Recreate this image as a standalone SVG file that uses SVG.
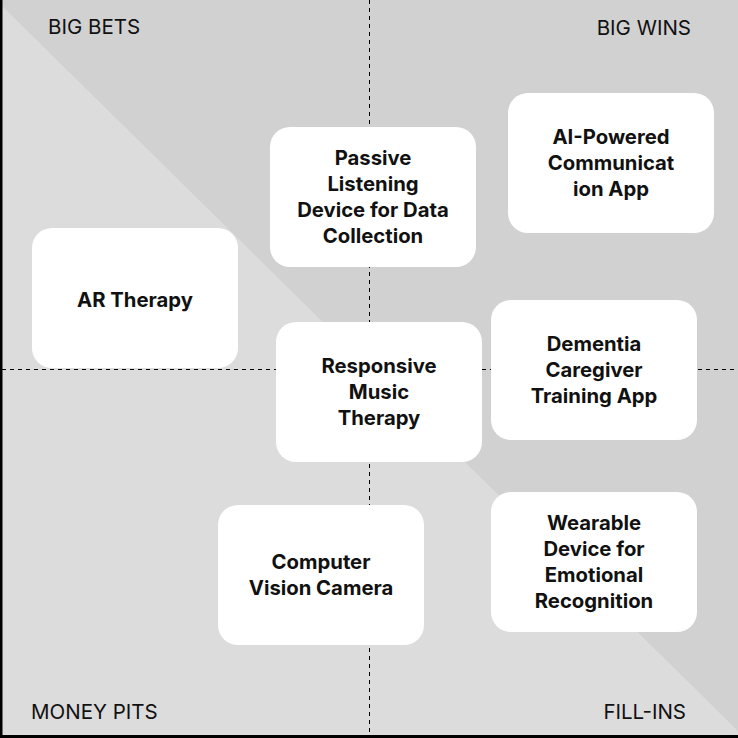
<svg xmlns="http://www.w3.org/2000/svg" width="738" height="738" viewBox="0 0 738 738">
<style>
.node rect{fill:#ffffff}
.node text{font-family:Inter,"Liberation Sans",sans-serif;font-weight:700;font-size:20.3px;fill:#111111;text-anchor:middle}
.lbl{font-family:Inter,"Liberation Sans",sans-serif;font-size:20.5px;fill:#111111}
.axis{stroke:#000000;stroke-width:1;stroke-dasharray:4 4;fill:none}
</style>
<g id="background">
<rect x="0" y="0" width="738" height="738" fill="#d1d1d1"/>
<polygon points="0,4 738,731 738,738 0,738" fill="#dcdcdc"/>
<rect x="0" y="0" width="2.5" height="738" fill="#000"/>
<rect x="0" y="735" width="738" height="3" fill="#000"/>
</g>
<g id="axes">
<line class="axis" x1="369.5" y1="0" x2="369.5" y2="735"/>
<line class="axis" x1="2" y1="369.5" x2="738" y2="369.5"/>
</g>
<g id="labels">
<text class="lbl" x="48" y="34">BIG BETS</text>
<text class="lbl" x="691" y="35" text-anchor="end">BIG WINS</text>
<text class="lbl" x="31" y="719">MONEY PITS</text>
<text class="lbl" x="686" y="719" text-anchor="end">FILL-INS</text>
</g>
<g id="connectors"></g>
<g id="n-passive" class="node">
<rect x="270" y="127" width="206" height="140" rx="20"/>
<text x="373" y="165">Passive</text>
<text x="373" y="191">Listening</text>
<text x="373" y="217">Device for Data</text>
<text x="373" y="243">Collection</text>
</g>
<g id="n-ai" class="node">
<rect x="508" y="93" width="206" height="140" rx="20"/>
<text x="611" y="144">AI-Powered</text>
<text x="611" y="170">Communicat</text>
<text x="611" y="196">ion App</text>
</g>
<g id="n-ar" class="node">
<rect x="32" y="228" width="206" height="140" rx="20"/>
<text x="135" y="307">AR Therapy</text>
</g>
<g id="n-music" class="node">
<rect x="276" y="322" width="206" height="140" rx="20"/>
<text x="379" y="373">Responsive</text>
<text x="379" y="399">Music</text>
<text x="379" y="425">Therapy</text>
</g>
<g id="n-dementia" class="node">
<rect x="491" y="300" width="206" height="140" rx="20"/>
<text x="594" y="351">Dementia</text>
<text x="594" y="377">Caregiver</text>
<text x="594" y="403">Training App</text>
</g>
<g id="n-vision" class="node">
<rect x="218" y="505" width="206" height="140" rx="20"/>
<text x="321" y="569">Computer</text>
<text x="321" y="595">Vision Camera</text>
</g>
<g id="n-wearable" class="node">
<rect x="491" y="492" width="206" height="140" rx="20"/>
<text x="594" y="530">Wearable</text>
<text x="594" y="556">Device for</text>
<text x="594" y="582">Emotional</text>
<text x="594" y="608">Recognition</text>
</g>
</svg>
